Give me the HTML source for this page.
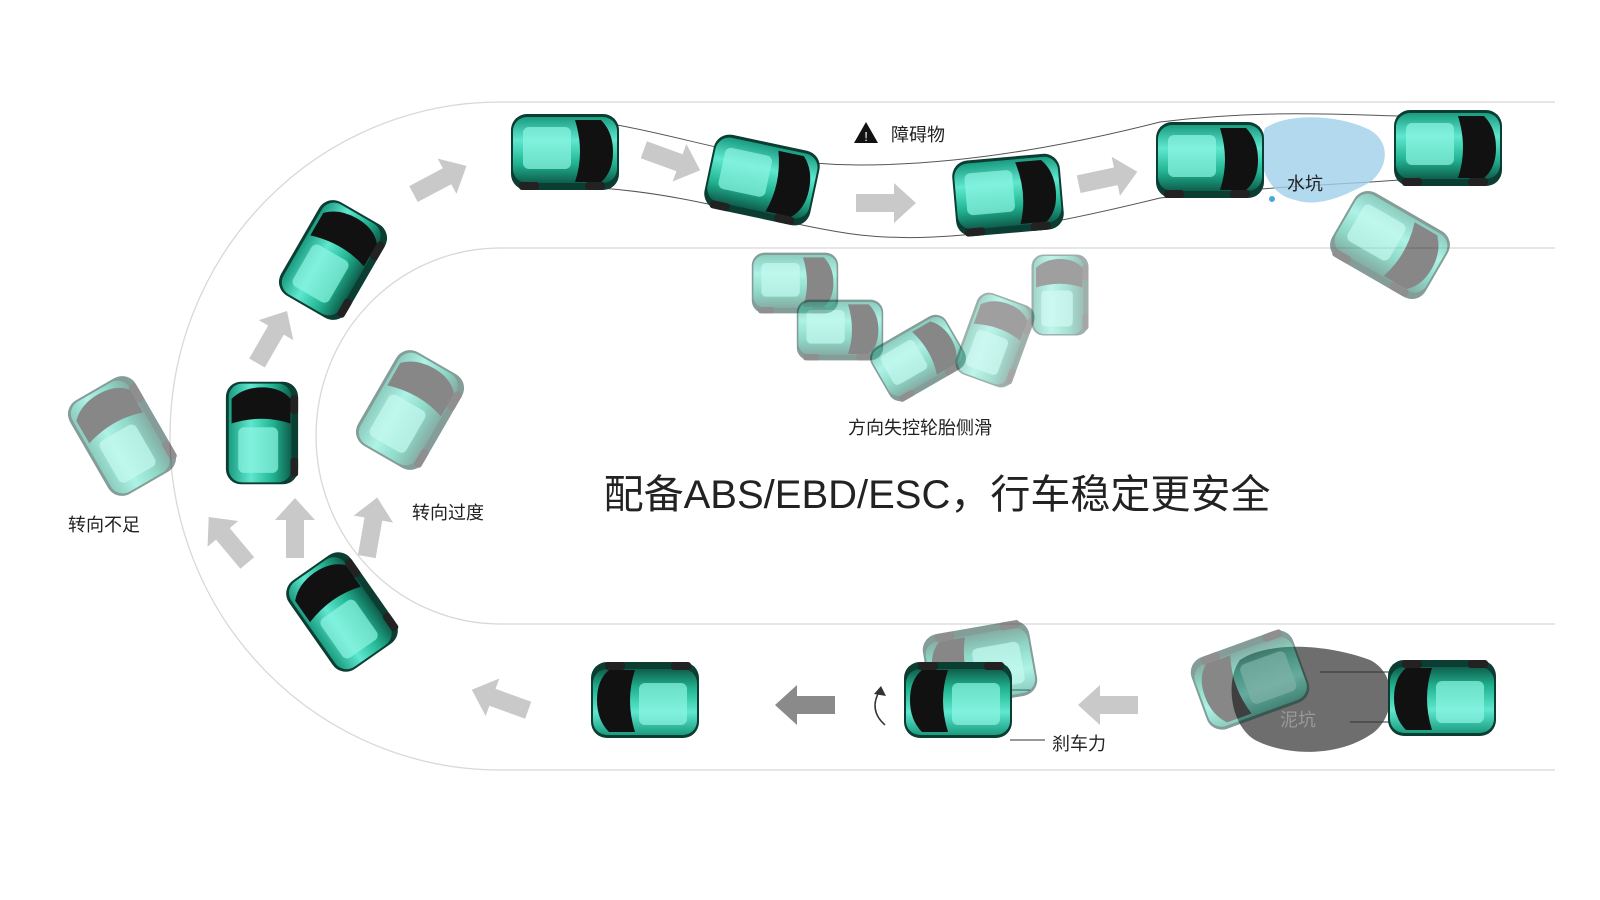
<!DOCTYPE html>
<html><head><meta charset="utf-8"><style>
html,body{margin:0;padding:0;background:#fff;}
svg{display:block;}
text{font-family:"Liberation Sans","Noto Sans CJK SC",sans-serif;fill:#222;}
</style></head><body>
<svg width="1600" height="900" viewBox="0 0 1600 900" xmlns="http://www.w3.org/2000/svg">
<defs>
<linearGradient id="tg" x1="0" y1="0" x2="0" y2="1">
<stop offset="0" stop-color="#1a9c80"/><stop offset="0.35" stop-color="#5fe8cf"/><stop offset="0.7" stop-color="#22b592"/><stop offset="1" stop-color="#0e5e4c"/>
</linearGradient>
<g id="car">
<rect x="-54" y="-38" width="108" height="76" rx="16" fill="#0c3d33"/>
<rect x="-52" y="-35" width="104" height="66" rx="14" fill="url(#tg)"/>
<path d="M10,-32 L36,-32 Q48,-20 48,0 Q48,20 36,30 L10,30 Q20,0 10,-32Z" fill="#111"/>
<rect x="-42" y="-25" width="48" height="42" rx="6" fill="#8ff5e2" opacity="0.7"/>
<rect x="-46" y="30" width="20" height="8" rx="3" fill="#222"/>
<rect x="20" y="30" width="20" height="8" rx="3" fill="#222"/>
</g>
<g id="arr"><path d="M-30,-9 L8,-9 L8,-20 L30,0 L8,20 L8,9 L-30,9Z" fill="#c9c9c9"/></g>
</defs>
<g fill="none" stroke="#d8d8d8" stroke-width="1.3">
<path d="M1555,102 L500,102 A330,334 0 0 0 500,770 L1555,770"/>
<path d="M1555,248 L500,248 A184,188 0 0 0 500,624 L1555,624"/>
</g>
<g fill="none" stroke="#555" stroke-width="1">
<path d="M612,124 C700,140 760,165 860,165 C950,165 1050,150 1160,122 C1260,110 1330,114 1400,116"/>
<path d="M600,188 C700,195 780,225 860,235 C950,245 1050,225 1160,198 C1250,188 1330,185 1400,180"/>
</g>
<path d="M1265,128 C1290,112 1340,115 1370,130 C1395,145 1385,175 1365,185 C1345,195 1320,208 1295,200 C1270,195 1262,170 1258,150Z" fill="#9fd0ea" opacity="0.8"/>
<circle cx="1272" cy="199" r="3" fill="#4aa8d8"/>
<path d="M1240,660 C1270,640 1330,645 1370,660 C1400,675 1395,720 1370,735 C1340,755 1290,758 1255,740 C1230,725 1225,680 1240,660Z" fill="#555" opacity="0.85"/>
<g fill="none" stroke="#333" stroke-width="1"><path d="M1320,672 L1390,672"/><path d="M1350,722 L1390,722"/><path d="M1010,690 L1030,690"/><path d="M1010,740 L1045,740"/></g>
<use href="#arr" transform="translate(440,180) rotate(-28)"/>
<use href="#arr" transform="translate(672,160) rotate(20)"/>
<use href="#arr" transform="translate(886,203)"/>
<use href="#arr" transform="translate(1108,178) rotate(-12)"/>
<use href="#arr" transform="translate(272,337) rotate(-60)"/>
<use href="#arr" transform="translate(228,540) rotate(-130)"/>
<use href="#arr" transform="translate(295,528) rotate(-90)"/>
<use href="#arr" transform="translate(372,527) rotate(-80)"/>
<use href="#arr" transform="translate(500,700) rotate(-160)"/>
<g transform="translate(805,705) rotate(180)"><path d="M-30,-9 L8,-9 L8,-20 L30,0 L8,20 L8,9 L-30,9Z" fill="#8a8a8a"/></g>
<use href="#arr" transform="translate(1108,705) rotate(180)"/>
<path d="M885,725 Q868,710 880,690" fill="none" stroke="#333" stroke-width="1.5"/><path d="M874,694 L881,686 L886,696Z" fill="#333"/>
<use href="#car" transform="translate(565,152)"/>
<use href="#car" transform="translate(762,180) rotate(12)"/>
<use href="#car" transform="translate(1008,195) rotate(-5)"/>
<use href="#car" transform="translate(1210,160)"/>
<use href="#car" transform="translate(1448,148)"/>
<use href="#car" transform="translate(1390,245) rotate(30)" opacity="0.5"/>
<use href="#car" transform="translate(795,283) scale(0.8)" opacity="0.5"/>
<use href="#car" transform="translate(840,330) scale(0.8)" opacity="0.5"/>
<use href="#car" transform="translate(918,358) rotate(-30) scale(0.8)" opacity="0.5"/>
<use href="#car" transform="translate(995,340) rotate(-70) scale(0.8)" opacity="0.4"/>
<use href="#car" transform="translate(1060,295) rotate(-90) scale(0.75)" opacity="0.4"/>
<use href="#car" transform="translate(333,260) rotate(-60)"/>
<use href="#car" transform="translate(262,433) rotate(-90) scale(0.95)"/>
<use href="#car" transform="translate(122,436) rotate(-120)" opacity="0.5"/>
<use href="#car" transform="translate(410,410) rotate(-60)" opacity="0.5"/>
<use href="#car" transform="translate(342,612) rotate(-125)"/>
<use href="#car" transform="translate(645,700) rotate(180)"/>
<use href="#car" transform="translate(980,665) rotate(170)" opacity="0.5"/>
<use href="#car" transform="translate(958,700) rotate(180)"/>
<use href="#car" transform="translate(1250,680) rotate(160)" opacity="0.5"/>
<use href="#car" transform="translate(1442,698) rotate(180)"/>
<path d="M866,122 L878,143 L854,143Z" fill="#111"/><text x="866" y="141" font-size="13" text-anchor="middle" style="fill:#fff">!</text>
<text x="891" y="141" font-size="18">障碍物</text>
<text x="1287" y="190" font-size="18">水坑</text>
<text x="920" y="434" font-size="18" text-anchor="middle">方向失控轮胎侧滑</text>
<text x="937" y="508" font-size="40" text-anchor="middle">配备ABS/EBD/ESC，行车稳定更安全</text>
<text x="68" y="531" font-size="18">转向不足</text>
<text x="412" y="519" font-size="18">转向过度</text>
<text x="1052" y="750" font-size="18">刹车力</text>
<text x="1280" y="726" font-size="18" style="fill:#999">泥坑</text>
</svg>
</body></html>
